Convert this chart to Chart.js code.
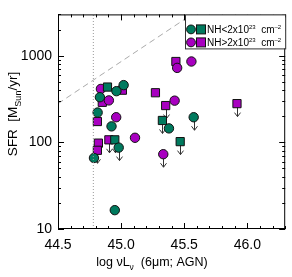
<!DOCTYPE html>
<html>
<head>
<meta charset="UTF-8">
<title>SFR vs AGN 6um luminosity</title>
<script src="https://cdn.jsdelivr.net/npm/chart.js"></script>
<style>
    body { margin: 0; background: #fff; }
    #wrap { position: relative; width: 292px; height: 277px; }
</style>
</head>
<body>
<div id="wrap"><canvas id="sfrChart"></canvas></div>
<script>
// x = log nuL_nu (6um; AGN), y = SFR [Msun/yr], *Lim = 1 -> upper limit (arrow)
const greenCircX   = [45.02, 44.963, 44.832, 44.814, 44.924, 45.379, 45.575, 44.785, 44.981, 44.95];
const greenCircY   = [458, 390, 332, 221, 153, 145, 195, 66, 87, 16.5];
const greenCircLim = [0, 0, 0, 0, 0, 0, 1, 0, 1, 0];

const greenSqX   = [44.892, 45.327, 44.95, 45.468];
const greenSqY   = [435, 179, 107, 102];
const greenSqLim = [0, 1, 1, 1];

const purpCircX   = [45.557, 45.444, 44.84, 44.903, 45.424, 44.961, 45.11, 45.334];
const purpCircY   = [858, 724, 414, 305, 303, 195, 113, 73];
const purpCircLim = [0, 0, 0, 0, 0, 0, 0, 1];

const purpSqX   = [45.434, 45.01, 44.851, 45.272, 45.353, 44.812, 44.82, 44.812, 44.903, 45.918];
const purpSqY   = [858, 400, 290, 374, 266, 174, 98, 81, 107, 280];
const purpSqLim = [0, 0, 0, 0, 1, 0, 0, 1, 1, 1];

// reference lines
const cutX = [44.78, 44.78];
const cutY = [10, 3000];
const diagX = [44.5, 45.56];
const diagY = [280, 2990];

const xTicks = [44.5, 45.0, 45.5, 46.0];
const yTicks = [10, 100, 1000];

const GREEN = '#007a5e';
const PURPLE = '#a800c0';
const FONT = "'Liberation Sans', Arial, Helvetica, sans-serif";

function pts(xs, ys) {
    return xs.map((x, i) => ({ x: x, y: ys[i] }));
}

function marker(label, xs, ys, lims, color, style) {
    return {
        type: 'scatter',
        label: label,
        data: pts(xs, ys),
        lims: lims,
        pointStyle: style,
        pointRadius: style === 'rect' ? 5.8 : 4.7,
        backgroundColor: color,
        borderColor: '#111',
        borderWidth: 1
    };
}

// draws a run of text pieces [text, size, dy] starting at x
function drawRuns(ctx, runs, x, y) {
    runs.forEach(r => {
        ctx.font = r[1] + 'px ' + FONT;
        ctx.fillText(r[0], x, y + r[2]);
        x += ctx.measureText(r[0]).width;
    });
    return x;
}
function runsWidth(ctx, runs) {
    let w = 0;
    runs.forEach(r => {
        ctx.font = r[1] + 'px ' + FONT;
        w += ctx.measureText(r[0]).width;
    });
    return w;
}

const decorPlugin = {
    id: 'decor',
    beforeDatasetsDraw(chart) {
        // upper-limit arrows under the markers
        const ctx = chart.ctx;
        ctx.save();
        ctx.strokeStyle = '#333';
        ctx.lineWidth = 1;
        chart.data.datasets.forEach((ds, di) => {
            if (!ds.lims) return;
            const meta = chart.getDatasetMeta(di);
            meta.data.forEach((el, i) => {
                if (!ds.lims[i]) return;
                const x = Math.round(el.x) + 0.5, y = el.y;
                ctx.beginPath();
                ctx.moveTo(x, y);
                ctx.lineTo(x, y + 13);
                ctx.moveTo(x - 3, y + 9);
                ctx.lineTo(x, y + 13);
                ctx.lineTo(x + 3, y + 9);
                ctx.stroke();
            });
        });
        ctx.restore();
    },
    afterDraw(chart) {
        const ctx = chart.ctx;
        const a = chart.chartArea;
        const xs = chart.scales.x, ys = chart.scales.y;
        ctx.save();
        ctx.strokeStyle = '#000';
        ctx.lineWidth = 1;
        ctx.strokeRect(a.left + 0.5, a.top + 0.5, a.right - a.left - 1, a.bottom - a.top - 1);

        // inward tick marks on all four sides
        ctx.beginPath();
        for (let k = 0; k <= 18; k++) {
            const v = 44.5 + k * 0.1;
            const px = Math.round(xs.getPixelForValue(v)) + 0.5;
            const len = (k % 5 === 0) ? 6 : 3;
            ctx.moveTo(px, a.bottom); ctx.lineTo(px, a.bottom - len);
            ctx.moveTo(px, a.top); ctx.lineTo(px, a.top + len);
        }
        [10, 100, 1000].forEach(d => {
            for (let m = 1; m <= 9; m++) {
                const v = m * d;
                if (v > 3000) break;
                const py = Math.round(ys.getPixelForValue(v)) + 0.5;
                const len = m === 1 ? 6 : 3;
                ctx.moveTo(a.left, py); ctx.lineTo(a.left + len, py);
                ctx.moveTo(a.right, py); ctx.lineTo(a.right - len, py);
            }
        });
        ctx.stroke();

        // axis titles
        ctx.fillStyle = '#000';
        ctx.textBaseline = 'alphabetic';
        const xRuns = [['log ', 12.5, 0], ['\u03bdL', 12.5, 0], ['\u03bd', 8.5, 4], ['  (6\u03bcm; AGN)', 12.5, 0]];
        drawRuns(ctx, xRuns, 152 - runsWidth(ctx, xRuns) / 2, 266);

        const yRuns = [['SFR  [M', 13.5, 0], ['Sun', 9, 4], ['/yr]', 13.5, 0]];
        ctx.save();
        ctx.translate(17, 114);
        ctx.rotate(-Math.PI / 2);
        drawRuns(ctx, yRuns, -runsWidth(ctx, yRuns) / 2, 0);
        ctx.restore();

        // legend box
        const lx = 185, ly = a.top, lw = a.right - lx, lh = 34;
        ctx.fillStyle = '#fff';
        ctx.fillRect(lx, ly, lw, lh);
        ctx.strokeStyle = '#333';
        ctx.strokeRect(lx + 0.5, ly + 0.5, lw, lh);
        const rows = [[GREEN, '<'], [PURPLE, '>']];
        rows.forEach((r, i) => {
            const cy = ly + 15 + i * 13;
            ctx.fillStyle = r[0];
            ctx.strokeStyle = '#111';
            ctx.beginPath();
            ctx.arc(191, cy, 4.4, 0, Math.PI * 2);
            ctx.fill(); ctx.stroke();
            ctx.fillRect(196.5, cy - 4.5, 9, 9);
            ctx.strokeRect(196.5, cy - 4.5, 9, 9);
            ctx.fillStyle = '#000';
            drawRuns(ctx, [['NH' + r[1] + '2x10', 10, 0], ['23', 6, -4], ['  cm', 10, 0], ['\u20132', 6, -4]], 207, cy + 3.5);
        });
        ctx.restore();
    }
};

new Chart(document.getElementById('sfrChart'), {
    type: 'scatter',
    data: {
        datasets: [
            {
                type: 'line', label: 'cut', data: pts(cutX, cutY),
                borderColor: '#999', borderWidth: 1, borderDash: [1, 2],
                pointRadius: 0, showLine: true, fill: false
            },
            {
                type: 'line', label: 'diag', data: pts(diagX, diagY),
                borderColor: '#aaa', borderWidth: 1, borderDash: [6, 4],
                pointRadius: 0, showLine: true, fill: false
            },
            marker('NH<2e23 (circ)', greenCircX, greenCircY, greenCircLim, GREEN, 'circle'),
            marker('NH<2e23 (sq)', greenSqX, greenSqY, greenSqLim, GREEN, 'rect'),
            marker('NH>2e23 (circ)', purpCircX, purpCircY, purpCircLim, PURPLE, 'circle'),
            marker('NH>2e23 (sq)', purpSqX, purpSqY, purpSqLim, PURPLE, 'rect')
        ]
    },
    options: {
        responsive: true,
        maintainAspectRatio: false,
        animation: false,
        layout: { padding: { top: 5, right: 5, left: 0, bottom: 0 } },
        plugins: {
            legend: { display: false },
            tooltip: { enabled: false }
        },
        scales: {
            x: {
                type: 'linear',
                min: 44.5,
                max: 46.3,
                grid: { display: false, drawTicks: false },
                border: { display: false },
                afterBuildTicks: s => { s.ticks = xTicks.map(v => ({ value: v })); },
                afterFit: s => { s.height = 48; },
                ticks: {
                    padding: 8, color: '#000', autoSkip: false, maxRotation: 0,
                    font: { family: FONT, size: 14 },
                    callback: v => Number(v).toFixed(1)
                }
            },
            y: {
                type: 'logarithmic',
                min: 10,
                max: 3000,
                grid: { display: false, drawTicks: false },
                border: { display: false },
                afterBuildTicks: s => { s.ticks = yTicks.map(v => ({ value: v })); },
                afterFit: s => { s.width = 58; },
                ticks: {
                    padding: 6, color: '#000', autoSkip: false,
                    font: { family: FONT, size: 14 },
                    callback: v => String(v)
                }
            }
        }
    },
    plugins: [decorPlugin]
});
</script>
</body>
</html>
